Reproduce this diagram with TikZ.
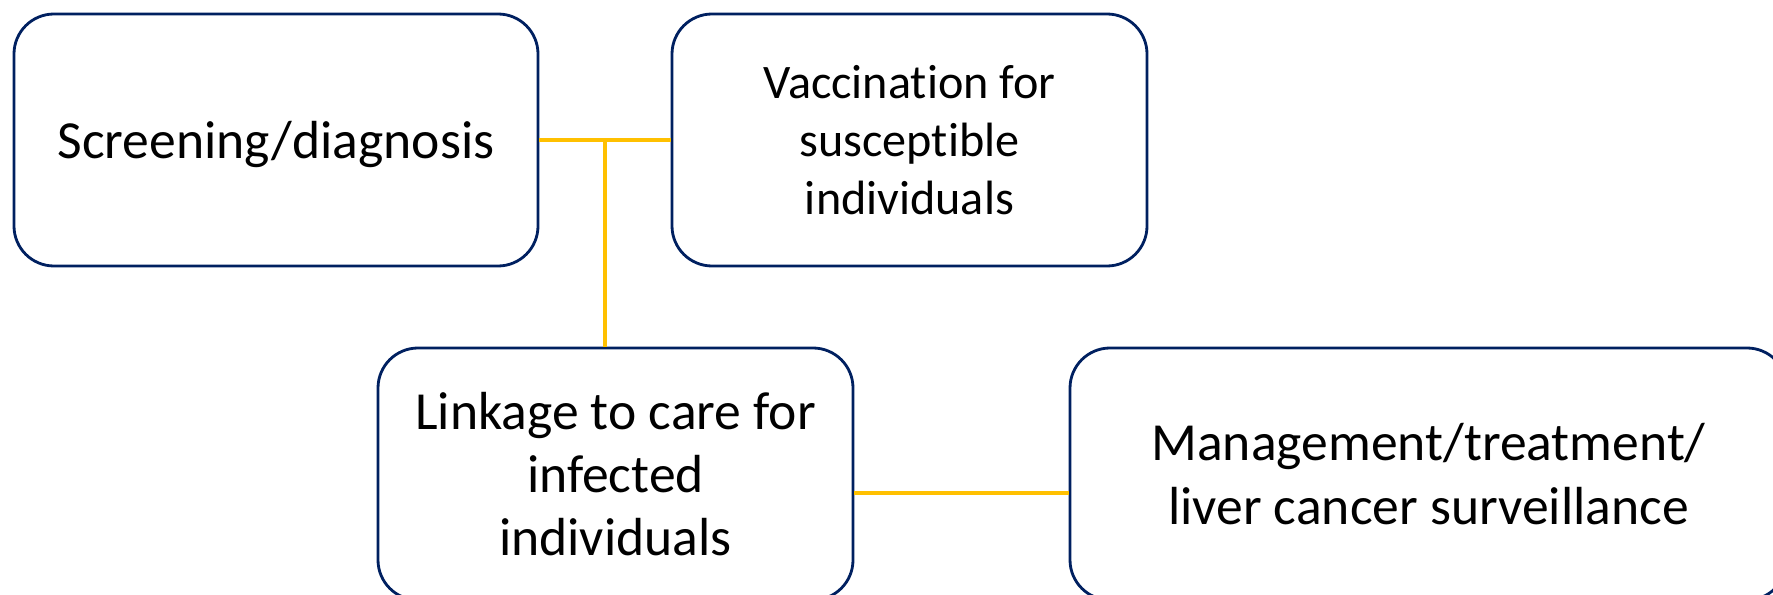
\documentclass[tikz,border=0pt]{standalone}
\usepackage{fontspec}
\setmainfont[Ligatures=NoCommon]{Carlito}
\usetikzlibrary{calc}
\definecolor{azul}{HTML}{002060}
\definecolor{amarillo}{HTML}{FFC000}
\begin{document}
\begin{tikzpicture}[line cap=butt,
    caja/.style={draw=azul, line width=0.8pt, rounded corners=4mm,
      minimum height=2.52cm, align=center, inner sep=0pt},
    grande/.style={font=\fontsize{15.25}{18}\selectfont},
    chica/.style={font=\fontsize{13.7}{16.4}\selectfont},
    linea/.style={draw=amarillo, line width=0.95pt}]
  \useasboundingbox (0,0) rectangle (17.73,-5.95);
  % arriba, el cribado y la vacuna
  \node[caja, grande, minimum width=5.24cm, text depth=0pt] (cribado) at (2.76,-1.40)
    {Screening/diagnosis};
  \node[caja, chica, minimum width=4.75cm] (vacuna) at (9.095,-1.40)
    {Vaccination for\\susceptible\\individuals};
  % abajo, la atencion y el tratamiento (cortados por el borde)
  \node[caja, grande, minimum width=4.75cm] (atencion) at (6.155,-4.74)
    {Linkage to care for\\infected\\individuals};
  \node[caja, grande, minimum width=7.17cm] (manejo) at (14.285,-4.74)
    {Management/treatment/\\liver cancer surveillance};
  % las lineas amarillas
  \draw[linea] (cribado.east) -- (vacuna.west);
  \coordinate (cruce) at ($(cribado.east)!0.5!(vacuna.west)$);
  \draw[linea] (cruce) -- (cruce |- atencion.north);
  \draw[linea] ([yshift=-1.9mm]atencion.east) -- ([yshift=-1.9mm]manejo.west);
\end{tikzpicture}
\end{document}
